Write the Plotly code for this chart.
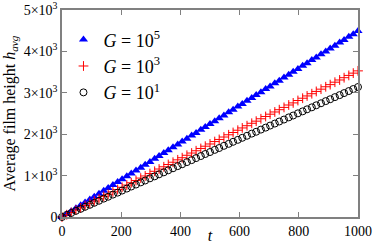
import plotly.graph_objects as go

t = [0, 16, 31, 47, 63, 78, 94, 109, 125, 141, 156, 172, 188, 203, 219, 234, 250, 266, 281, 297,
     313, 328, 344, 359, 375, 391, 406, 422, 438, 453, 469, 484, 500, 516, 531, 547, 563, 578, 594, 609,
     625, 641, 656, 672, 688, 703, 719, 734, 750, 766, 781, 797, 813, 828, 844, 859, 875, 891, 906, 922,
     938, 953, 969, 984, 1000]

h_G5 = [0, 74, 141, 209, 285, 352, 420, 491, 559, 635, 702, 770, 846, 909, 985, 1049, 1125, 1192, 1264, 1331,
        1407, 1471, 1547, 1610, 1686, 1753, 1825, 1893, 1969, 2031, 2108, 2171, 2247, 2315, 2386, 2453, 2530, 2593, 2669, 2732,
        2808, 2875, 2947, 3015, 3091, 3154, 3230, 3293, 3370, 3437, 3509, 3576, 3652, 3716, 3792, 3855, 3931, 3998, 4070, 4137,
        4214, 4277, 4353, 4416, 4490]

h_G3 = [0, 55, 108, 167, 221, 276, 331, 386, 440, 499, 550, 608, 663, 718, 772, 827, 882, 940, 991, 1049,
        1104, 1159, 1213, 1268, 1323, 1381, 1432, 1491, 1545, 1600, 1655, 1710, 1764, 1822, 1873, 1932, 1986, 2041, 2096, 2151,
        2205, 2264, 2315, 2373, 2428, 2483, 2537, 2592, 2647, 2705, 2756, 2814, 2869, 2924, 2978, 3033, 3088, 3146, 3197, 3256,
        3310, 3365, 3420, 3475, 3530]

h_G1 = [0, 51, 96, 149, 197, 246, 294, 343, 392, 444, 489, 541, 589, 638, 687, 736, 784, 836, 881, 934,
        982, 1031, 1079, 1128, 1177, 1229, 1274, 1326, 1374, 1423, 1472, 1521, 1569, 1621, 1666, 1719, 1767, 1816, 1864, 1913,
        1962, 2014, 2059, 2111, 2159, 2208, 2257, 2306, 2354, 2406, 2451, 2504, 2552, 2601, 2649, 2698, 2747, 2799, 2844, 2896,
        2944, 2993, 3042, 3091, 3140]

y_tickvals = [0, 1000, 2000, 3000, 4000, 5000]
y_ticktext = ["0", "1×10<sup>3</sup>", "2×10<sup>3</sup>", "3×10<sup>3</sup>", "4×10<sup>3</sup>", "5×10<sup>3</sup>"]
x_tickvals = [0, 200, 400, 600, 800, 1000]

serif = "Liberation Serif"

fig = go.Figure()
fig.add_trace(go.Scatter(x=t, y=h_G5, mode="markers", name="<i>G</i> = 10<sup>5</sup>",
                         marker=dict(symbol="triangle-up", size=8, color="#0000ff", line=dict(width=0)),
                         cliponaxis=False))
fig.add_trace(go.Scatter(x=t, y=h_G3, mode="markers", name="<i>G</i> = 10<sup>3</sup>",
                         marker=dict(symbol="cross-thin", size=7, color="#ff0000", line=dict(width=1, color="#ff0000")),
                         cliponaxis=False))
fig.add_trace(go.Scatter(x=t, y=h_G1, mode="markers", name="<i>G</i> = 10<sup>1</sup>",
                         marker=dict(symbol="circle-open", size=7, color="#000000", line=dict(width=1, color="#000000")),
                         cliponaxis=False))

axis_common = dict(showline=True, linecolor="#808080", linewidth=1.5, mirror="ticks",
                   ticks="inside", ticklen=5, tickwidth=1.2, tickcolor="#808080",
                   showgrid=False, zeroline=False, automargin=False,
                   tickfont=dict(family=serif, size=14, color="#000000"))

fig.update_xaxes(range=[0, 1000], tickvals=x_tickvals, **axis_common,
                 title=dict(text="<i>t</i>", font=dict(family=serif, size=16, color="#000000"), standoff=0))
fig.update_yaxes(range=[0, 5000], tickvals=y_tickvals, ticktext=y_ticktext, **axis_common,
                 title=dict(text="Average film height <i>h</i><sub><i>avg</i></sub>",
                            font=dict(family=serif, size=16, color="#000000"), standoff=4))

fig.update_layout(width=374, height=244, margin=dict(l=62, r=16, t=10, b=27),
                  paper_bgcolor="white", plot_bgcolor="white",
                  font=dict(family=serif, color="#000000"),
                  legend=dict(x=0.005, y=0.945, xanchor="left", yanchor="top",
                              bgcolor="rgba(0,0,0,0)", font=dict(family=serif, size=18),
                              itemwidth=30, tracegroupgap=0))

fig.write_html("out.html", config={"displayModeBar": False},
               post_script="document.body.style.margin='0';document.body.style.padding='0';"
                           "document.body.style.overflow='hidden';")
